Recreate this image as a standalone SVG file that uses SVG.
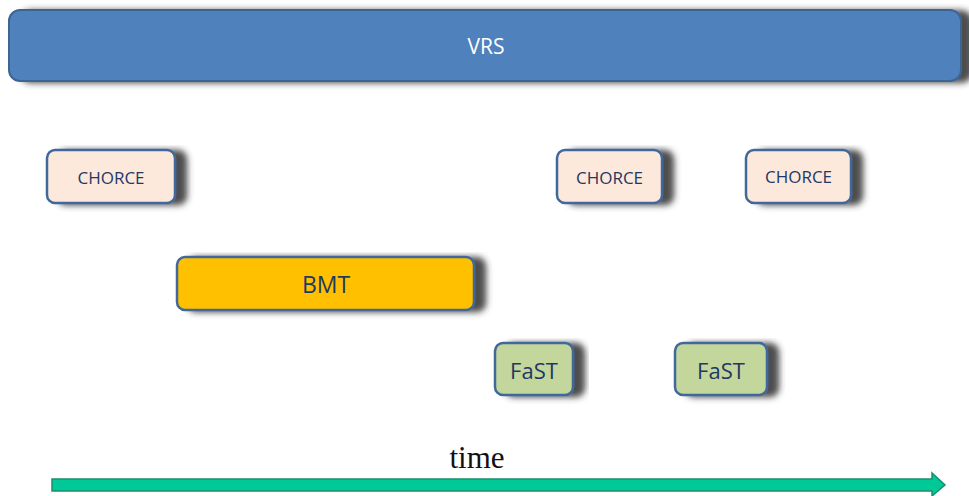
<svg xmlns="http://www.w3.org/2000/svg" width="969" height="496" viewBox="0 0 969 496">
<defs>
<filter id="sh" x="-10%" y="-10%" width="130%" height="130%">
<feGaussianBlur in="SourceAlpha" stdDeviation="3"/>
<feOffset dx="11" dy="1" result="b"/>
<feFlood flood-color="#2e2e2e" flood-opacity="0.85"/>
<feComposite in2="b" operator="in"/>
<feMerge><feMergeNode/><feMergeNode in="SourceGraphic"/></feMerge>
</filter>
<style>
.box{stroke:#41689a;stroke-width:2.5;filter:url(#sh)}
.ch{fill:#fde9dc}
.bmt{fill:#ffc000}
.fast{fill:#c3d69b}
.lbl{font-family:"Open Sans","Liberation Sans",sans-serif;font-weight:500;fill:#1f3864;text-anchor:middle;dominant-baseline:central}
</style>
</defs>
<g id="vrs">
<rect x="9" y="10" width="952" height="71" rx="11" fill="#4f81bd" stroke="#3d6594" stroke-width="2" filter="url(#sh)"/>
<text x="486" y="46" class="lbl" style="fill:#ffffff;font-size:21px;font-weight:400">VRS</text>
</g>
<g id="chorce1">
<rect class="box ch" x="47" y="150" width="128" height="53" rx="8"/>
<text x="111" y="177" class="lbl" font-size="17">CHORCE</text>
</g>
<g id="chorce2">
<rect class="box ch" x="557" y="150" width="105" height="53" rx="8"/>
<text x="609.5" y="177" class="lbl" font-size="17">CHORCE</text>
</g>
<g id="chorce3">
<rect class="box ch" x="746" y="150" width="105" height="53" rx="8"/>
<text x="798.5" y="176" class="lbl" font-size="17">CHORCE</text>
</g>
<g id="bmt">
<rect class="box bmt" x="177" y="257" width="297" height="53" rx="8"/>
<text x="326" y="284" class="lbl" font-size="23">BMT</text>
</g>
<g id="fast1">
<rect class="box fast" x="495" y="343" width="78" height="52" rx="8"/>
<text x="534" y="370" class="lbl" font-size="22">FaST</text>
</g>
<g id="fast2">
<rect class="box fast" x="675" y="343" width="92" height="52" rx="8"/>
<text x="721" y="370" class="lbl" font-size="22">FaST</text>
</g>
<g id="connectors">
<polygon points="52,479 932,479 932,473 945,485 932,496 932,491 52,491" fill="#00c896" stroke="#1a8f6f" stroke-width="1.5"/>
</g>
<text x="477" y="468" font-family="Liberation Serif, serif" font-size="31" fill="#111" text-anchor="middle">time</text>
</svg>
